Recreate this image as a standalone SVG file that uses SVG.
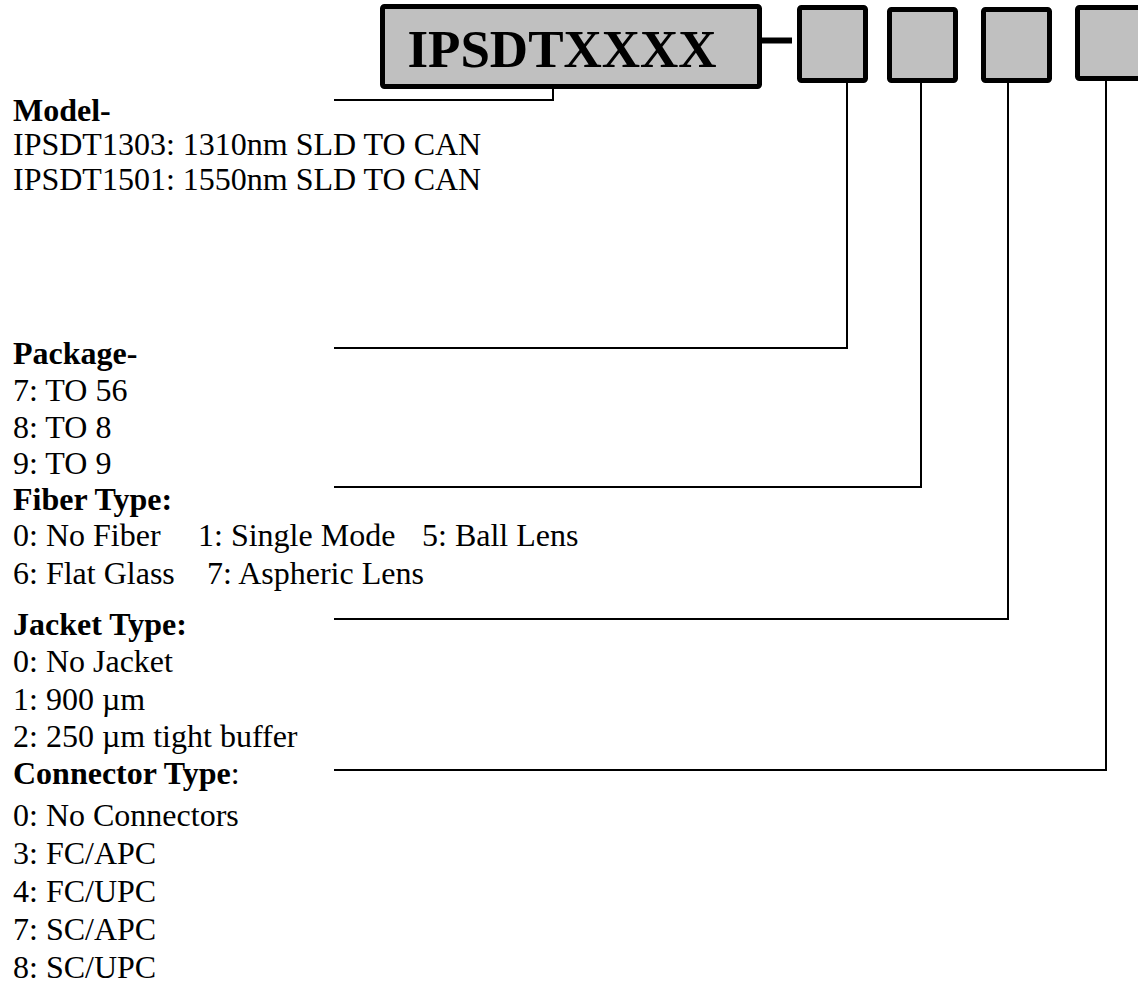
<svg xmlns="http://www.w3.org/2000/svg" width="1138" height="991" viewBox="0 0 1138 991">
<style>
text{font-family:"Liberation Serif","Times New Roman",serif;font-size:32px;fill:#000}
.b{font-weight:bold}
.box{fill:#c0c0c0;stroke:#000;stroke-width:5}
.ln{fill:none;stroke:#000;stroke-width:2}
</style>
<rect width="1138" height="991" fill="#fff"/>
<g id="model-box">
<rect class="box" x="382.5" y="6.5" width="377" height="80" rx="2"/>
<text x="562" y="67" text-anchor="middle" class="b" style="font-size:53px">IPSDTXXXX</text>
</g>
<g id="box-package"><rect class="box" x="799.5" y="7.5" width="66" height="73" rx="2"/></g>
<g id="box-fiber"><rect class="box" x="889.5" y="9.5" width="66" height="71" rx="2"/></g>
<g id="box-jacket"><rect class="box" x="983.5" y="9.5" width="66" height="71" rx="2"/></g>
<g id="box-connector"><rect class="box" x="1077.5" y="7.5" width="66" height="71" rx="2"/></g>
<g id="connectors">
<line x1="762" y1="40.5" x2="792" y2="40.5" stroke="#000" stroke-width="6"/>
<polyline class="ln" points="553,89 553,100 334,100"/>
<polyline class="ln" points="847,83 847,348 334,348"/>
<polyline class="ln" points="921,83 921,487 334,487"/>
<polyline class="ln" points="1008,83 1008,619 334,619"/>
<polyline class="ln" points="1106,81 1106,770 334,770"/>
</g>
<g id="model-text">
<text x="13" y="121" class="b">Model-</text>
<text x="13" y="155">IPSDT1303: 1310nm SLD TO CAN</text>
<text x="13" y="190">IPSDT1501: 1550nm SLD TO CAN</text>
</g>
<g id="package-text">
<text x="13" y="364" class="b">Package-</text>
<text x="13" y="401">7: TO 56</text>
<text x="13" y="438">8: TO 8</text>
<text x="13" y="474">9: TO 9</text>
</g>
<g id="fiber-text">
<text x="13" y="510" class="b">Fiber Type:</text>
<text x="13" y="546">0: No Fiber<tspan x="198">1: Single Mode</tspan><tspan x="422">5: Ball Lens</tspan></text>
<text x="13" y="584">6: Flat Glass<tspan x="207">7: Aspheric Lens</tspan></text>
</g>
<g id="jacket-text">
<text x="13" y="635" class="b">Jacket Type:</text>
<text x="13" y="672">0: No Jacket</text>
<text x="13" y="710">1: 900 µm</text>
<text x="13" y="747">2: 250 µm tight buffer</text>
</g>
<g id="connector-text">
<text x="13" y="784"><tspan class="b">Connector Type</tspan>:</text>
<text x="13" y="826">0: No Connectors</text>
<text x="13" y="864">3: FC/APC</text>
<text x="13" y="902">4: FC/UPC</text>
<text x="13" y="940">7: SC/APC</text>
<text x="13" y="978">8: SC/UPC</text>
</g>
</svg>
